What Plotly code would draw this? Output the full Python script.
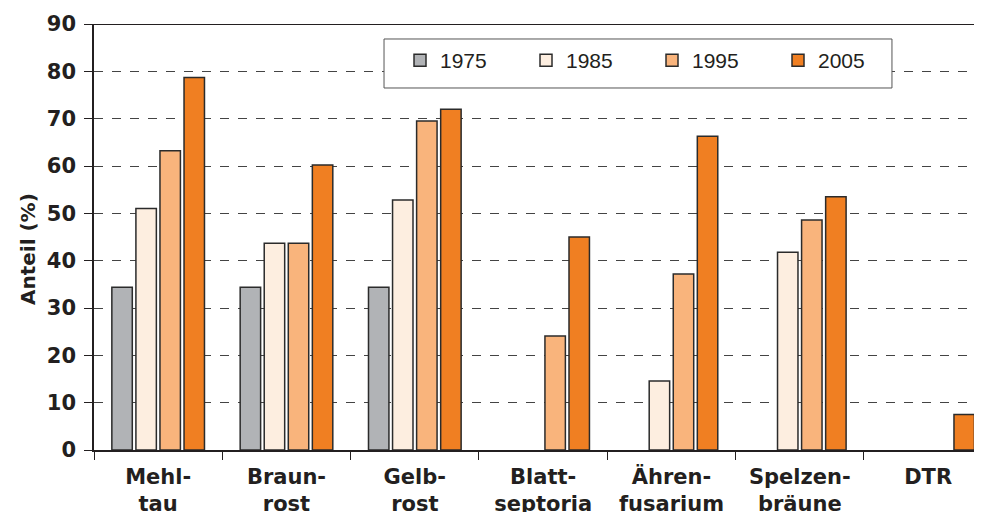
import plotly.graph_objects as go

categories = ["Mehl-<br>tau", "Braun-<br>rost", "Gelb-<br>rost", "Blatt-<br>septoria",
              "Ähren-<br>fusarium", "Spelzen-<br>bräune", "DTR"]
years = ["1975", "1985", "1995", "2005"]
v1975 = [34.4, 34.4, 34.4, None, None, None, None]
v1985 = [51.0, 43.7, 52.8, None, 14.6, 41.8, None]
v1995 = [63.2, 43.7, 69.5, 24.1, 37.2, 48.6, None]
v2005 = [78.7, 60.2, 72.0, 45.0, 66.3, 53.5, 7.5]
colors = ["#b1b3b6", "#fdeee0", "#f9b47c", "#f07f22"]
yticks = [0, 10, 20, 30, 40, 50, 60, 70, 80, 90]
y_title = "Anteil (%)"

BOLD = "DejaVu Sans, Verdana, sans-serif"
REG = "Liberation Sans, Arial, Helvetica, sans-serif"
INK = "#231f20"

fig = go.Figure()
for name, vals, c in zip(years, [v1975, v1985, v1995, v2005], colors):
    fig.add_trace(go.Bar(x=categories, y=vals, name=name,
                         marker=dict(color=c, line=dict(color="#2b2b2b", width=1.5))))

# page has an 8px body margin: figure drawn from (8,8)
fig.update_layout(
    width=974, height=504,
    margin=dict(l=86, r=0, t=16, b=62, autoexpand=False),
    paper_bgcolor="white", plot_bgcolor="white",
    barmode="group", bargap=0.25, bargroupgap=0.15,
    font=dict(family=REG, color=INK),
    legend=dict(orientation="h", x=0.3446, y=0.914, xanchor="left", yanchor="middle",
                bgcolor="rgba(0,0,0,0)", borderwidth=0,
                font=dict(size=21, family=REG, color=INK),
                entrywidth=81, entrywidthmode="pixels",
                itemclick=False),
    showlegend=True,
)
fig.update_xaxes(
    range=[-0.5, 6.42], tickson="boundaries", ticks="outside", ticklen=8,
    tickcolor=INK, tickwidth=1.2,
    showline=True, linecolor=INK, linewidth=1.5,
    showgrid=False, automargin=False, ticklabelstandoff=7,
    tickfont=dict(size=21, family=BOLD, weight="bold", color=INK),
)
fig.update_yaxes(
    range=[0, 90], tickvals=yticks, ticks="outside", ticklen=8,
    tickcolor=INK, tickwidth=1.2,
    showline=True, linecolor=INK, linewidth=1.5,
    showgrid=True, gridcolor="#444444", griddash="dash", gridwidth=1,
    zeroline=False, automargin=False, ticklabelstandoff=4,
    tickfont=dict(size=21, family=BOLD, weight="bold", color=INK),
)
fig.add_annotation(text=y_title, textangle=-90, xref="paper", yref="paper",
                   x=-0.0743, y=0.4718, xanchor="center", yanchor="middle",
                   showarrow=False,
                   font=dict(size=20, family=BOLD, weight="bold", color=INK))
# top frame line
fig.add_shape(type="line", xref="paper", yref="y", x0=0, x1=1, y0=90, y1=90,
              line=dict(color=INK, width=2))
# legend frame
fig.add_shape(type="rect", xref="paper", yref="paper",
              x0=0.3266, x1=0.8986, y0=0.8498, y1=0.9648,
              line=dict(color="#555555", width=1), fillcolor="white", layer="above")
fig.write_html("out.html")
